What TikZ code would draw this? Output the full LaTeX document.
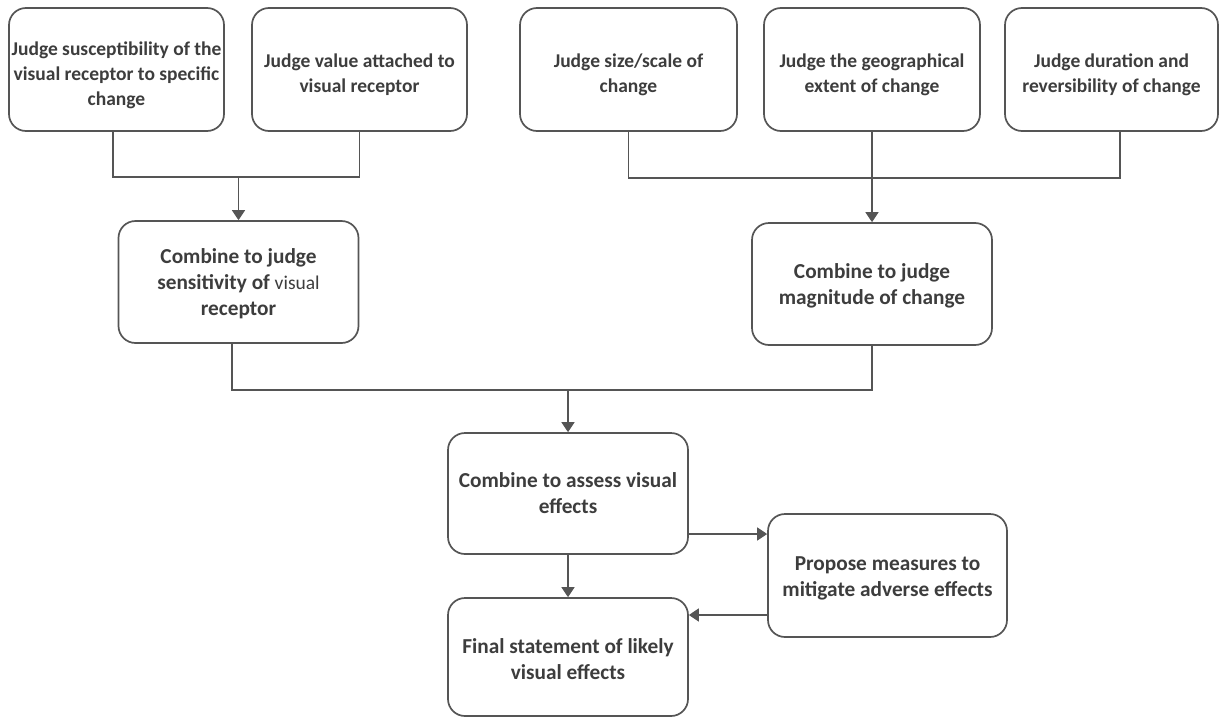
\documentclass[tikz,border=0pt]{standalone}
\usepackage{fontspec}
\setmainfont{Carlito}
\usetikzlibrary{arrows.meta}
\definecolor{linec}{HTML}{555555}
\definecolor{txtc}{HTML}{3d3d3d}
\newcommand{\bxt}[2]{\raisebox{#1}[\height][\depth]{\begin{tabular}{@{}c@{}}#2\end{tabular}}}
\begin{document}
\begin{tikzpicture}[x=1pt,y=-1pt,
  box/.style={draw=linec, line width=1.7pt, rounded corners=17pt, text=txtc, inner sep=0pt, fill=white},
  topbox/.style={box, minimum height=123pt, font=\bfseries\fontsize{19.5}{25}\selectfont},
  midbox/.style={box, minimum width=240pt, minimum height=122pt, font=\bfseries\fontsize{21.3}{26}\selectfont},
  conn/.style={draw=linec, line width=1.7pt},
  arr/.style={conn, -{Triangle[length=10pt,width=13pt]}}]
\useasboundingbox[fill=white] (0,0) rectangle (1219,718);
% top row
\node[topbox, minimum width=215pt] (A) at (116.5,69.5) {\bxt{-6pt}{Judge susceptibility of the\\visual receptor to specific\\change}};
\node[topbox, minimum width=215pt] (B) at (359.5,69.5) {\bxt{-5.5pt}{Judge value attached to\\visual receptor}};
\node[topbox, minimum width=217pt] (F) at (628.5,69.5) {\bxt{-5.5pt}{Judge size/scale of\\change}};
\node[topbox, minimum width=216pt] (G) at (872,69.5) {\bxt{-5.5pt}{Judge the geographical\\extent of change}};
\node[topbox, minimum width=213pt] (H) at (1111.5,69.5) {\bxt{-5.5pt}{Judge duration and\\reversibility of change}};
% middle row
\node[midbox] (C) at (238.5,282) {\bxt{-2.5pt}{Combine to judge\\sensitivity of {\mdseries\fontsize{19.5}{26}\selectfont visual}\\receptor}};
\node[midbox] (D) at (872,284) {\bxt{-2.5pt}{Combine to judge\\magnitude of change}};
% bottom
\node[midbox, minimum height=121pt] (E) at (568,493.5) {\bxt{-2pt}{Combine to assess visual\\effects}};
\node[midbox, minimum width=239pt, minimum height=123pt] (P) at (887.5,575.5) {\bxt{-3pt}{Propose measures to\\mitigate adverse effects}};
\node[midbox, minimum height=118pt] (Fin) at (568,657) {\bxt{-4pt}{Final statement of likely\\visual effects}};
% junctions
\coordinate (j1) at (238.5,177);
\coordinate (j2) at (872,178);
\coordinate (j3) at (568,390);
% connectors
\draw[conn] ([xshift=-3.5pt]A.south) |- (j1);
\draw[conn] (B.south) |- (j1);
\draw[arr] (j1) -- (C.north);
\draw[conn] (F.south) |- (j2);
\draw[conn] ([xshift=8.5pt]H.south) |- (j2);
\draw[arr] (G.south) -- (D.north);
\draw[conn] ([xshift=-6.5pt]C.south) |- (j3);
\draw[conn] (D.south) |- (j3);
\draw[arr] (j3) -- (E.north);
\draw[arr] ([yshift=-40.5pt]E.east) -- ([yshift=-40.5pt]E.east -| P.west);
\draw[arr] (E.south) -- (Fin.north);
\draw[arr] ([yshift=-39.5pt]P.west) -- ([yshift=-39.5pt]P.west -| Fin.east);
\end{tikzpicture}
\end{document}
